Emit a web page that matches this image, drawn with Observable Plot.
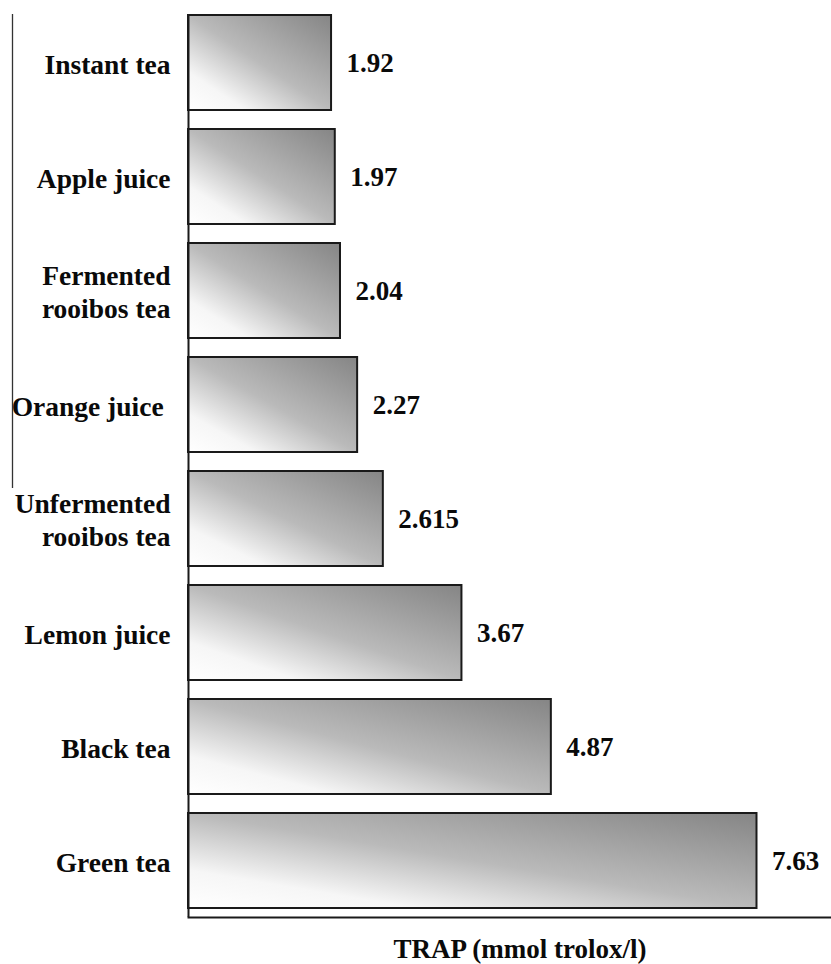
<!DOCTYPE html>
<html>
<head>
<meta charset="utf-8">
<script src="https://cdn.jsdelivr.net/npm/d3@7"></script>
<script src="https://cdn.jsdelivr.net/npm/@observablehq/plot@0.6"></script>
<style>
  html, body { margin: 0; padding: 0; background: #fff; }
  #chart { position: relative; width: 831px; height: 964px; }
</style>
</head>
<body>
<div id="chart"></div>
<script>
const categories = [
  "Instant tea",
  "Apple juice",
  "Fermented\nrooibos tea",
  "Orange juice\u00a0",
  "Unfermented\nrooibos tea",
  "Lemon juice",
  "Black tea",
  "Green tea"
];
const values = [1.92, 1.97, 2.04, 2.27, 2.615, 3.67, 4.87, 7.63];
const valueLabels = ["1.92", "1.97", "2.04", "2.27", "2.615", "3.67", "4.87", "7.63"];
const xLabel = "TRAP (mmol trolox/l)";

const data = categories.map((c, i) => ({category: c, value: values[i], label: valueLabels[i]}));

const font = "'Liberation Serif', 'Times New Roman', Times, serif";

const chart = Plot.plot({
  width: 831,
  height: 964,
  marginTop: 15,
  marginBottom: 47,
  marginLeft: 188,
  marginRight: 0,
  style: {fontFamily: font, fontWeight: "bold", fontSize: "27px", color: "#111", background: "#fff"},
  x: {domain: [0, 8.63], axis: null},
  y: {domain: categories, range: [15, 908], paddingInner: 0.167, paddingOuter: 0, axis: null},
  marks: [
    Plot.barX(data, {x: "value", y: "category", fill: "url(#barGrad)", stroke: "#1a1a1a", strokeWidth: 2}),
    Plot.ruleX([0], {stroke: "#1a1a1a", strokeWidth: 2}),
    Plot.frame({anchor: "bottom", stroke: "#1a1a1a", strokeWidth: 2}),
    Plot.axisY({tickSize: 0, tickPadding: 18, fontSize: 27.5, fontWeight: "bold", lineHeight: 1.2, label: null, fill: "#0a0a0a"}),
    Plot.text(data, {x: "value", y: "category", text: "label", textAnchor: "start", dx: 15, fontSize: 27, fontWeight: "bold", fill: "#0a0a0a"}),
    Plot.text([xLabel], {frameAnchor: "bottom", dy: 32, dx: 10, lineAnchor: "middle", fontSize: 27, fontWeight: "bold", fill: "#0a0a0a"})
  ]
});

const svg = d3.select(chart);
const defs = svg.insert("defs", ":first-child");
const grad = defs.append("linearGradient")
  .attr("id", "barGrad")
  .attr("x1", 0).attr("y1", 1).attr("x2", 1).attr("y2", 0);
[[0, "#ffffff"], [0.2, "#f6f6f6"], [0.5, "#bababa"], [1, "#858585"]].forEach(([o, c]) => {
  grad.append("stop").attr("offset", o).attr("stop-color", c);
});
// stray bracket line seen at the far left of the original figure
svg.append("line")
  .attr("x1", 12.5).attr("x2", 12.5).attr("y1", 14).attr("y2", 488)
  .attr("stroke", "#333").attr("stroke-width", 1.3);

document.getElementById("chart").appendChild(chart);
</script>
</body>
</html>
